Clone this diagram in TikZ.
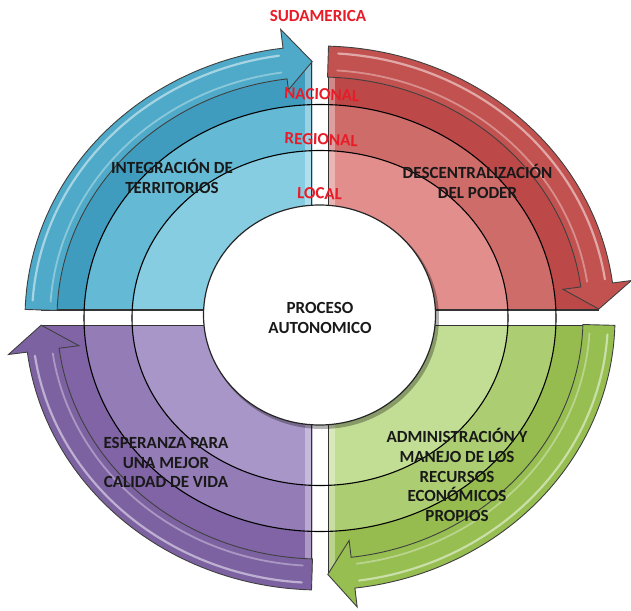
\documentclass[tikz,border=0pt]{standalone}
\usepackage{fontspec}
\setmainfont{Carlito}
\definecolor{bArrow}{RGB}{78,170,200}
\definecolor{bN}{RGB}{64,156,190}
\definecolor{bR}{RGB}{100,185,212}
\definecolor{bL}{RGB}{135,205,226}
\definecolor{rArrow}{RGB}{194,82,80}
\definecolor{rN}{RGB}{188,72,72}
\definecolor{rR}{RGB}{206,108,106}
\definecolor{rL}{RGB}{225,142,140}
\definecolor{gArrow}{RGB}{150,190,80}
\definecolor{gN}{RGB}{150,188,80}
\definecolor{gR}{RGB}{172,205,114}
\definecolor{gL}{RGB}{194,222,148}
\definecolor{pArrow}{RGB}{125,98,162}
\definecolor{pN}{RGB}{128,100,165}
\definecolor{pR}{RGB}{148,124,183}
\definecolor{pL}{RGB}{168,150,200}
\definecolor{labred}{RGB}{232,28,40}
\def\qcx{320}
\def\qcy{318}
\tikzset{
  edge/.style={draw=black!80},
  ring/.style={draw=black, line width=1.1},
  lab/.style={font=\bfseries\fontsize{17}{20}\selectfont, text=black!90, inner sep=0pt, anchor=base},
  rlab/.style={lab, text=labred},
}
% quadrant base: tag, clip x1,y1,x2,y2, stripe x1,x2
\newcommand{\quadrant}[7]{%
  \begin{scope}
    \clip (#2,#3) rectangle (#4,#5);
    \fill[#1N] (\qcx,\qcy) ellipse [x radius=279, y radius=256.5];
    \fill[#1R] (\qcx,\qcy) ellipse [x radius=236, y radius=213.5];
    \fill[#1L] (\qcx,\qcy) ellipse [x radius=188, y radius=167.5];
    \begin{scope}
      \clip (\qcx,\qcy) ellipse [x radius=279, y radius=256.5];
      \fill[white, opacity=.35] (#6,0) rectangle (#7,610);
      \draw[edge, line width=2] (#2,#3) rectangle (#4,#5);
    \end{scope}
  \end{scope}
}
% curved arrow: tag, tail angle, base angle, tip angle, inner barb offset
\newcommand{\qarrow}[5]{%
  \draw[fill=#1Arrow, draw=black!75, line width=0.9, line join=miter]
    plot[domain=#2:#3, samples=60] ({\qcx+295*cos(\x)},{\qcy+272*sin(\x)})
    -- ({\qcx+314*cos(#3)},{\qcy+291*sin(#3)})
    -- ({\qcx+279*cos(#4)},{\qcy+256.5*sin(#4)})
    -- ({\qcx+(263-#5)*cos(#3)},{\qcy+(241-#5)*sin(#3)})
    -- plot[domain=#3:#2, samples=60] ({\qcx+263*cos(\x)},{\qcy+241*sin(\x)})
    -- cycle;
  \draw[white, opacity=.5, line width=2.2, line cap=round]
    plot[domain={#2+2}:{#3-1}, samples=50] ({\qcx+288*cos(\x)},{\qcy+265*sin(\x)});
  \draw[white, opacity=.35, line width=1.8, line cap=round]
    plot[domain={#2+2}:{#3-1}, samples=50] ({\qcx+270*cos(\x)},{\qcy+248*sin(\x)});
}
\begin{document}
\begin{tikzpicture}[x=1pt,y=-1pt]
\useasboundingbox (0,0) rectangle (631,610);
\fill[white] (0,0) rectangle (631,610);
% quadrant bases
\quadrant{b}{0}{0}{312}{310}{305}{311}
\quadrant{r}{328}{0}{631}{310}{329}{335}
\quadrant{g}{328}{325}{631}{610}{329}{335}
\quadrant{p}{0}{325}{312}{610}{305}{311}
% level rings
\draw[ring] (\qcx,\qcy) ellipse [x radius=236, y radius=213.5];
\draw[ring] (\qcx,\qcy) ellipse [x radius=188, y radius=167.5];
% outer arrows
\qarrow{b}{181.8}{262.8}{268.4}{11}
\qarrow{r}{271.65}{352.6}{358}{18}
\qarrow{g}{1.55}{83.2}{88.4}{17}
\qarrow{p}{91.65}{172.8}{178.4}{20}
% centre circle
\fill[black, opacity=.3] (322,318) ellipse [x radius=117, y radius=111];
\draw[fill=white, draw=black!85, line width=1.2] (319.5,315) ellipse [x radius=116, y radius=110];
% level labels
\node[rlab] (sud) at (318,22) {SUDAMERICA};
\node[rlab, rotate=-2] (nac) at (321.5,100) {NACIONAL};
\node[rlab, rotate=-2] (reg) at (321,145) {REGIONAL};
\node[rlab, rotate=-2] (loc) at (319.5,199) {LOCAL};
% quadrant labels
\node[lab] (int1) at (172,173) {INTEGRACIÓN DE};
\node[lab] (int2) at (172,193) {TERRITORIOS};
\node[lab] (des1) at (477.5,178) {DESCENTRALIZACIÓN};
\node[lab] (des2) at (477.5,198) {DEL PODER};
\node[lab] (pro1) at (320,313) {PROCESO};
\node[lab] (pro2) at (320,333) {AUTONOMICO};
\node[lab] (esp1) at (166,448) {ESPERANZA PARA};
\node[lab] (esp2) at (166,468) {UNA MEJOR};
\node[lab] (esp3) at (166,487) {CALIDAD DE VIDA};
\node[lab] (adm1) at (457,442) {ADMINISTRACIÓN Y};
\node[lab] (adm2) at (457,462) {MANEJO DE LOS};
\node[lab] (adm3) at (457,482) {RECURSOS};
\node[lab] (adm4) at (457,501) {ECONÓMICOS};
\node[lab] (adm5) at (457,521) {PROPIOS};
\end{tikzpicture}
\end{document}
